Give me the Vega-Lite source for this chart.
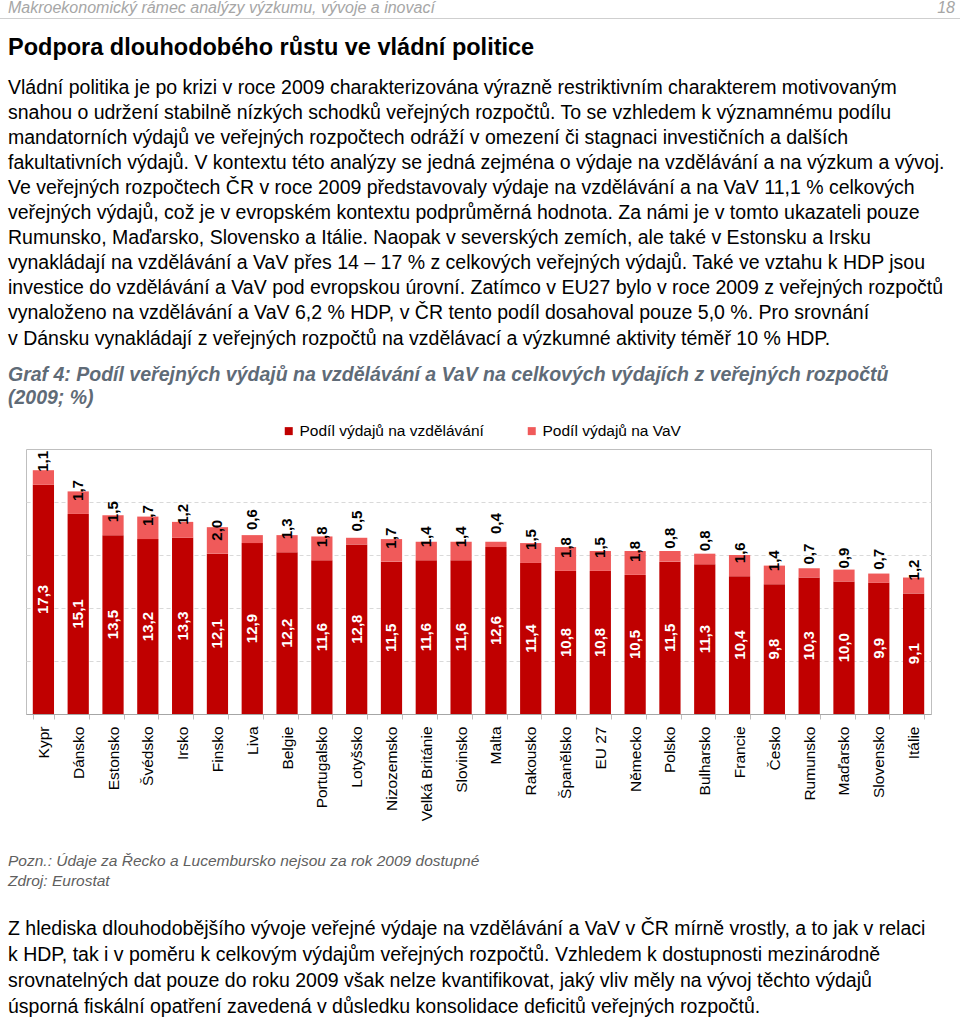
{
  "$schema": "https://vega.github.io/schema/vega-lite/v6.json",
  "padding": 0,
  "background": "white",
  "spacing": 0,
  "resolve": {"legend": {"color": "independent"}, "scale": {"color": "independent"}},
  "config": {
    "font": "Liberation Sans",
    "locale": {"number": {"decimal": ",", "thousands": "\u00a0", "grouping": [3], "currency": ["", "\u00a0Kč"]}},
    "view": {"stroke": null},
    "title": {"anchor": "start", "fontWeight": "normal", "color": "black", "subtitleColor": "black", "subtitleFont": "Liberation Sans"},
    "concat": {"spacing": 0}
  },
  "vconcat": [
    {
      "spacing": 0,
      "hconcat": [
        {"width": 920, "height": 1, "data": {"values": []}, "mark": "point", "view": {"fill": "#cfcfcf", "stroke": null},
         "title": {"text": "Makroekonomický rámec analýzy výzkumu, vývoje a inovací", "fontSize": 16, "fontStyle": "italic", "color": "#a6a6a6", "dx": 8, "offset": 2}},
        {"width": 40, "height": 1, "data": {"values": []}, "mark": "point", "view": {"fill": "#cfcfcf", "stroke": null},
         "title": {"text": "18", "anchor": "end", "fontSize": 16, "fontStyle": "italic", "color": "#a6a6a6", "dx": -5, "offset": 2}}
      ]
    },
    {"width": 10, "height": 17, "data": {"values": []}, "mark": "point"},
    {"width": 944, "height": 0.01, "data": {"values": []}, "mark": "point",
     "title": {
       "text": "Podpora dlouhodobého růstu ve vládní politice",
       "fontSize": 23.5, "fontWeight": "bold", "dx": 8,
       "subtitle": [
         "Vládní politika je po krizi v roce 2009 charakterizována výrazně restriktivním charakterem motivovaným",
         "snahou o udržení stabilně nízkých schodků veřejných rozpočtů. To se vzhledem k významnému podílu",
         "mandatorních výdajů ve veřejných rozpočtech odráží v omezení či stagnaci investičních a dalších",
         "fakultativních výdajů. V kontextu této analýzy se jedná zejména o výdaje na vzdělávání a na výzkum a vývoj.",
         "Ve veřejných rozpočtech ČR v roce 2009 představovaly výdaje na vzdělávání a na VaV 11,1 % celkových",
         "veřejných výdajů, což je v evropském kontextu podprůměrná hodnota. Za námi je v tomto ukazateli pouze",
         "Rumunsko, Maďarsko, Slovensko a Itálie. Naopak v severských zemích, ale také v Estonsku a Irsku",
         "vynakládají na vzdělávání a VaV přes 14 – 17 % z celkových veřejných výdajů. Také ve vztahu k HDP jsou",
         "investice do vzdělávání a VaV pod evropskou úrovní. Zatímco v EU27 bylo v roce 2009 z veřejných rozpočtů",
         "vynaloženo na vzdělávání a VaV 6,2 % HDP, v ČR tento podíl dosahoval pouze 5,0 %. Pro srovnání",
         "v Dánsku vynakládají z veřejných rozpočtů na vzdělávací a výzkumné aktivity téměř 10 % HDP."
       ],
       "subtitleFontSize": 19.5, "subtitleLineHeight": 25.1, "subtitlePadding": 19, "offset": 15
     }
    },
    {"width": 944, "height": 0.01, "data": {"values": []}, "mark": "point",
     "title": {
       "text": ["Graf 4: Podíl veřejných výdajů na vzdělávání a VaV na celkových výdajích z veřejných rozpočtů", "\u00a0\u00a0\u00a0\u00a0\u00a0\u00a0\u00a0\u00a0\u00a0\u00a0\u00a0\u00a0(2009; %)"],
       "fontSize": 19.5, "fontStyle": "italic", "fontWeight": "bold", "color": "#5f6b77", "lineHeight": 23, "dx": 8, "offset": 14
     }
    },
    {
      "spacing": 0,
      "hconcat": [
        {"width": 18, "height": 1, "data": {"values": []}, "mark": "point"},
        {
          "width": 905,
          "height": 265,
          "view": {"stroke": "#bfbfbf"},
          "data": {"values": [
            {"zeme": "Kypr", "serie": "Podíl výdajů na vzdělávání", "hodnota": 17.3},
            {"zeme": "Kypr", "serie": "Podíl výdajů na VaV", "hodnota": 1.1},
            {"zeme": "Dánsko", "serie": "Podíl výdajů na vzdělávání", "hodnota": 15.1},
            {"zeme": "Dánsko", "serie": "Podíl výdajů na VaV", "hodnota": 1.7},
            {"zeme": "Estonsko", "serie": "Podíl výdajů na vzdělávání", "hodnota": 13.5},
            {"zeme": "Estonsko", "serie": "Podíl výdajů na VaV", "hodnota": 1.5},
            {"zeme": "Švédsko", "serie": "Podíl výdajů na vzdělávání", "hodnota": 13.2},
            {"zeme": "Švédsko", "serie": "Podíl výdajů na VaV", "hodnota": 1.7},
            {"zeme": "Irsko", "serie": "Podíl výdajů na vzdělávání", "hodnota": 13.3},
            {"zeme": "Irsko", "serie": "Podíl výdajů na VaV", "hodnota": 1.2},
            {"zeme": "Finsko", "serie": "Podíl výdajů na vzdělávání", "hodnota": 12.1},
            {"zeme": "Finsko", "serie": "Podíl výdajů na VaV", "hodnota": 2.0},
            {"zeme": "Liva", "serie": "Podíl výdajů na vzdělávání", "hodnota": 12.9},
            {"zeme": "Liva", "serie": "Podíl výdajů na VaV", "hodnota": 0.6},
            {"zeme": "Belgie", "serie": "Podíl výdajů na vzdělávání", "hodnota": 12.2},
            {"zeme": "Belgie", "serie": "Podíl výdajů na VaV", "hodnota": 1.3},
            {"zeme": "Portugalsko", "serie": "Podíl výdajů na vzdělávání", "hodnota": 11.6},
            {"zeme": "Portugalsko", "serie": "Podíl výdajů na VaV", "hodnota": 1.8},
            {"zeme": "Lotyšsko", "serie": "Podíl výdajů na vzdělávání", "hodnota": 12.8},
            {"zeme": "Lotyšsko", "serie": "Podíl výdajů na VaV", "hodnota": 0.5},
            {"zeme": "Nizozemsko", "serie": "Podíl výdajů na vzdělávání", "hodnota": 11.5},
            {"zeme": "Nizozemsko", "serie": "Podíl výdajů na VaV", "hodnota": 1.7},
            {"zeme": "Velká Británie", "serie": "Podíl výdajů na vzdělávání", "hodnota": 11.6},
            {"zeme": "Velká Británie", "serie": "Podíl výdajů na VaV", "hodnota": 1.4},
            {"zeme": "Slovinsko", "serie": "Podíl výdajů na vzdělávání", "hodnota": 11.6},
            {"zeme": "Slovinsko", "serie": "Podíl výdajů na VaV", "hodnota": 1.4},
            {"zeme": "Malta", "serie": "Podíl výdajů na vzdělávání", "hodnota": 12.6},
            {"zeme": "Malta", "serie": "Podíl výdajů na VaV", "hodnota": 0.4},
            {"zeme": "Rakousko", "serie": "Podíl výdajů na vzdělávání", "hodnota": 11.4},
            {"zeme": "Rakousko", "serie": "Podíl výdajů na VaV", "hodnota": 1.5},
            {"zeme": "Španělsko", "serie": "Podíl výdajů na vzdělávání", "hodnota": 10.8},
            {"zeme": "Španělsko", "serie": "Podíl výdajů na VaV", "hodnota": 1.8},
            {"zeme": "EU 27", "serie": "Podíl výdajů na vzdělávání", "hodnota": 10.8},
            {"zeme": "EU 27", "serie": "Podíl výdajů na VaV", "hodnota": 1.5},
            {"zeme": "Německo", "serie": "Podíl výdajů na vzdělávání", "hodnota": 10.5},
            {"zeme": "Německo", "serie": "Podíl výdajů na VaV", "hodnota": 1.8},
            {"zeme": "Polsko", "serie": "Podíl výdajů na vzdělávání", "hodnota": 11.5},
            {"zeme": "Polsko", "serie": "Podíl výdajů na VaV", "hodnota": 0.8},
            {"zeme": "Bulharsko", "serie": "Podíl výdajů na vzdělávání", "hodnota": 11.3},
            {"zeme": "Bulharsko", "serie": "Podíl výdajů na VaV", "hodnota": 0.8},
            {"zeme": "Francie", "serie": "Podíl výdajů na vzdělávání", "hodnota": 10.4},
            {"zeme": "Francie", "serie": "Podíl výdajů na VaV", "hodnota": 1.6},
            {"zeme": "Česko", "serie": "Podíl výdajů na vzdělávání", "hodnota": 9.8},
            {"zeme": "Česko", "serie": "Podíl výdajů na VaV", "hodnota": 1.4},
            {"zeme": "Rumunsko", "serie": "Podíl výdajů na vzdělávání", "hodnota": 10.3},
            {"zeme": "Rumunsko", "serie": "Podíl výdajů na VaV", "hodnota": 0.7},
            {"zeme": "Maďarsko", "serie": "Podíl výdajů na vzdělávání", "hodnota": 10.0},
            {"zeme": "Maďarsko", "serie": "Podíl výdajů na VaV", "hodnota": 0.9},
            {"zeme": "Slovensko", "serie": "Podíl výdajů na vzdělávání", "hodnota": 9.9},
            {"zeme": "Slovensko", "serie": "Podíl výdajů na VaV", "hodnota": 0.7},
            {"zeme": "Itálie", "serie": "Podíl výdajů na vzdělávání", "hodnota": 9.1},
            {"zeme": "Itálie", "serie": "Podíl výdajů na VaV", "hodnota": 1.2}
          ]},
          "transform": [
            {"stack": "hodnota", "groupby": ["zeme"], "sort": [{"field": "serie", "order": "descending"}], "as": ["dolni", "horni"]}
          ],
          "encoding": {
            "x": {
              "field": "zeme", "type": "nominal", "sort": null,
              "scale": {"paddingInner": 0.39, "paddingOuter": 0.195},
              "axis": {
                "title": null, "labelAngle": -90, "labelAlign": "right", "labelBaseline": "middle",
                "labelFontSize": 15.5, "labelColor": "black", "labelPadding": 7, "labelLimit": 300, "labelOverlap": false,
                "tickBand": "extent", "tickSize": 5, "tickColor": "#bfbfbf", "domainColor": "#a6a6a6"
              }
            }
          },
          "layer": [
            {
              "mark": {"type": "bar"},
              "encoding": {
                "y": {"field": "dolni", "type": "quantitative", "scale": {"domain": [0, 20], "nice": false},
                      "axis": {"title": null, "labels": false, "ticks": false, "domain": false, "grid": true,
                               "gridDash": [4, 3], "gridColor": "#d9d9d9", "values": [4, 8, 12, 16], "minExtent": 0, "maxExtent": 0}},
                "y2": {"field": "horni"},
                "color": {
                  "field": "serie", "type": "nominal",
                  "scale": {"domain": ["Podíl výdajů na vzdělávání", "Podíl výdajů na VaV"], "range": ["#c00000", "#f05a5a"]},
                  "legend": {"title": null, "orient": "none", "legendX": 281, "legendY": -26, "direction": "horizontal",
                             "symbolType": "square", "symbolSize": 64, "symbolStrokeWidth": 0, "labelFontSize": 15.5,
                             "labelColor": "black", "columnPadding": 40, "labelOffset": 3, "labelLimit": 400}
                }
              }
            },
            {
              "transform": [{"filter": "datum.serie == 'Podíl výdajů na vzdělávání'"}],
              "mark": {"type": "text", "angle": 270, "fontWeight": "bold", "fontSize": 15, "color": "white", "align": "center", "baseline": "middle"},
              "encoding": {
                "y": {"field": "horni", "type": "quantitative", "scale": {"domain": [0, 40], "nice": false}, "axis": null},
                "text": {"field": "hodnota", "type": "quantitative", "format": ".1f"}
              }
            },
            {
              "transform": [{"filter": "datum.serie == 'Podíl výdajů na VaV'"}],
              "mark": {"type": "text", "angle": 270, "fontWeight": "bold", "fontSize": 15, "color": "black", "align": "left", "baseline": "middle", "dx": 13},
              "encoding": {
                "y": {"field": "dolni", "type": "quantitative", "scale": {"domain": [0, 20], "nice": false}, "axis": null},
                "text": {"field": "hodnota", "type": "quantitative", "format": ".1f"}
              }
            }
          ],
          "resolve": {"scale": {"y": "independent"}}
        }
      ]
    },
    {"width": 10, "height": 32, "data": {"values": []}, "mark": "point"},
    {"width": 944, "height": 0.01, "data": {"values": []}, "mark": "point",
     "title": {
       "text": ["Pozn.: Údaje za Řecko a Lucembursko nejsou za rok 2009 dostupné", "Zdroj: Eurostat"],
       "fontSize": 15.5, "fontStyle": "italic", "color": "#5f5f5f", "lineHeight": 20, "dx": 8,
       "subtitle": [
         "Z hlediska dlouhodobějšího vývoje veřejné výdaje na vzdělávání a VaV v ČR mírně vrostly, a to jak v relaci",
         "k HDP, tak i v poměru k celkovým výdajům veřejných rozpočtů. Vzhledem k dostupnosti mezinárodně",
         "srovnatelných dat pouze do roku 2009 však nelze kvantifikovat, jaký vliv měly na vývoj těchto výdajů",
         "úsporná fiskální opatření zavedená v důsledku konsolidace deficitů veřejných rozpočtů."
       ],
       "subtitleFontSize": 19.5, "subtitleLineHeight": 26, "subtitlePadding": 30, "offset": 0
     }
    }
  ]
}
